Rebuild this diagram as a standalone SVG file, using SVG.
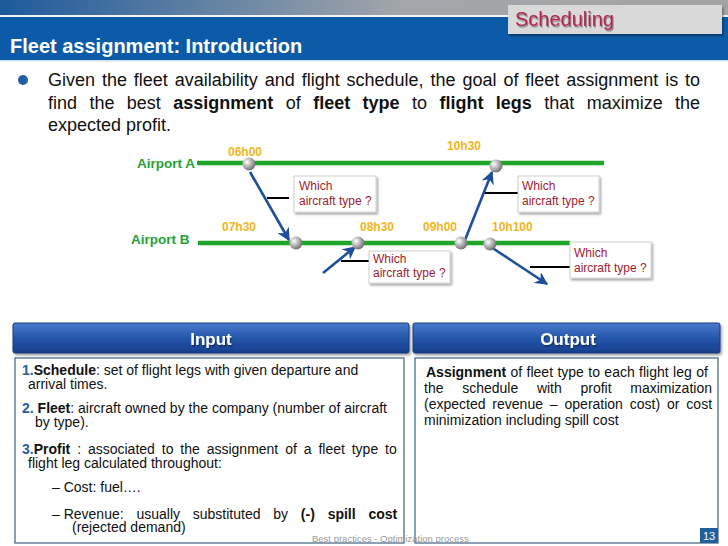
<svg xmlns="http://www.w3.org/2000/svg" width="728" height="546" viewBox="0 0 728 546">
<defs>
<linearGradient id="topg" x1="0" y1="0" x2="1" y2="0">
<stop offset="0" stop-color="#1d5a9c"/>
<stop offset="0.55" stop-color="#a2a6aa"/>
<stop offset="1" stop-color="#a4a4a4"/>
</linearGradient>
<linearGradient id="barg" x1="0" y1="0" x2="0" y2="1">
<stop offset="0" stop-color="#4a7bcc"/>
<stop offset="0.5" stop-color="#2456aa"/>
<stop offset="1" stop-color="#173f8c"/>
</linearGradient>
<radialGradient id="ball" cx="0.35" cy="0.35" r="0.7">
<stop offset="0" stop-color="#ffffff"/>
<stop offset="0.5" stop-color="#b4b4b4"/>
<stop offset="1" stop-color="#6a6a6a"/>
</radialGradient>
<filter id="sh" x="-20%" y="-20%" width="150%" height="160%">
<feDropShadow dx="1.5" dy="2" stdDeviation="1.2" flood-color="#000" flood-opacity="0.35"/>
</filter>
<filter id="tsh" x="-10%" y="-20%" width="130%" height="160%">
<feDropShadow dx="1" dy="1.5" stdDeviation="0.6" flood-color="#000" flood-opacity="0.4"/>
</filter>
<marker id="ah" viewBox="0 0 10 10" refX="9" refY="5" markerWidth="5" markerHeight="5" orient="auto">
<path d="M0,0 L10,5 L0,10 L3,5 z" fill="#1f4e9a"/>
</marker>
<style>
.t{font-family:"Liberation Sans",Arial,sans-serif}
.b{font-weight:bold}
.body{font-family:"Liberation Sans",Arial,sans-serif;font-size:18px;fill:#111}
.p{font-family:"Liberation Sans",Arial,sans-serif;font-size:14px;fill:#111}
.num{fill:#1f5ea8;font-weight:bold}
.time{font-family:"Liberation Sans",Arial,sans-serif;font-size:12px;font-weight:bold;fill:#f2b51c}
.apt{font-family:"Liberation Sans",Arial,sans-serif;font-size:13.5px;font-weight:bold;fill:#23a33a}
.q{font-family:"Liberation Sans",Arial,sans-serif;font-size:12px;fill:#a3202e}
.qbox{fill:#fff;stroke:#d0d0d0;stroke-width:1}
.green{stroke:#1fa52a;stroke-width:4.5}
.arr{stroke:#1f4e9a;stroke-width:2.6;fill:none;marker-end:url(#ah)}
.con{stroke:#000;stroke-width:2}
.bar{fill:url(#barg);stroke:#1a3a7a;stroke-width:1}
.bartxt{font-family:"Liberation Sans",Arial,sans-serif;font-size:17px;font-weight:bold;fill:#fff;text-anchor:middle}
.panel{fill:#fff;stroke:#4f6e8c;stroke-width:1.3}
</style>
</defs>

<g id="header">
<rect x="0" y="0" width="728" height="16" fill="url(#topg)"/>
<rect x="0" y="15" width="728" height="2" fill="#f2f2f2"/>
<rect x="0" y="17" width="728" height="43" fill="#0b5ba8"/>
<rect x="0" y="60" width="728" height="1.5" fill="#cfe2f4"/>
<rect x="508" y="5" width="214" height="29" fill="#d9d9d9" filter="url(#sh)"/>
<text x="515" y="26" class="t" font-size="20" fill="#b0284c" filter="url(#tsh)">Scheduling</text>
<text x="10" y="53" class="t b" font-size="20" fill="#ffffff">Fleet assignment: Introduction</text>
</g>

<g id="intro">
<circle cx="23" cy="80" r="5" fill="#1e5fa8"/>
<text x="48" y="86" class="body" word-spacing="1.9">Given the fleet availability and flight schedule, the goal of fleet assignment is to</text>
<text x="48" y="109" class="body" word-spacing="7.4">find the best <tspan class="b">assignment</tspan> of <tspan class="b">fleet type</tspan> to <tspan class="b">flight legs</tspan> that maximize the</text>
<text x="48" y="131" class="body">expected profit.</text>
</g>

<g id="airport-lines">
<line x1="197" y1="163" x2="604" y2="163" class="green"/>
<line x1="198" y1="243" x2="570" y2="243" class="green"/>
<text x="137" y="168" class="apt">Airport A</text>
<text x="131" y="244" class="apt">Airport B</text>
</g>

<g id="times">
<text x="228" y="156" class="time">06h00</text>
<text x="447" y="150" class="time">10h30</text>
<text x="222" y="231" class="time">07h30</text>
<text x="360" y="231" class="time">08h30</text>
<text x="423" y="231" class="time">09h00</text>
<text x="492" y="231" class="time">10h100</text>
</g>

<g id="connectors">
<line x1="250" y1="172" x2="289" y2="240" class="arr"/>
<line x1="323" y1="273" x2="355" y2="247" class="arr"/>
<line x1="465" y1="240" x2="492" y2="172" class="arr"/>
<line x1="491" y1="247" x2="547" y2="284" class="arr"/>
<line x1="267" y1="198" x2="289" y2="198" class="con"/>
<line x1="341" y1="261" x2="369" y2="261" class="con"/>
<line x1="485" y1="193" x2="518" y2="193" class="con"/>
<line x1="530" y1="267" x2="570" y2="267" class="con"/>
</g>

<g id="balls">
<circle cx="249" cy="164" r="6.5" fill="url(#ball)"/>
<circle cx="296" cy="243" r="6.5" fill="url(#ball)"/>
<circle cx="358" cy="243" r="6.5" fill="url(#ball)"/>
<circle cx="461" cy="243" r="6.5" fill="url(#ball)"/>
<circle cx="490" cy="244" r="6.5" fill="url(#ball)"/>
<circle cx="496" cy="166" r="6.5" fill="url(#ball)"/>
</g>

<g id="q1">
<rect x="294" y="176" width="82" height="36" class="qbox" filter="url(#sh)"/>
<text x="299" y="190" class="q">Which</text>
<text x="299" y="205" class="q">aircraft type ?</text>
</g>
<g id="q2">
<rect x="369" y="251" width="81" height="32" class="qbox" filter="url(#sh)"/>
<text x="373" y="263" class="q">Which</text>
<text x="373" y="277" class="q">aircraft type ?</text>
</g>
<g id="q3">
<rect x="518" y="176" width="81" height="36" class="qbox" filter="url(#sh)"/>
<text x="522" y="190" class="q">Which</text>
<text x="522" y="205" class="q">aircraft type ?</text>
</g>
<g id="q4">
<rect x="570" y="242" width="81" height="36" class="qbox" filter="url(#sh)"/>
<text x="574" y="257" class="q">Which</text>
<text x="574" y="272" class="q">aircraft type ?</text>
</g>

<g id="input">
<rect x="13" y="323" width="396" height="30" rx="2" class="bar" filter="url(#sh)"/>
<text x="211" y="345" class="bartxt" filter="url(#tsh)">Input</text>
<rect x="15" y="358" width="389" height="185" class="panel"/>
<text x="22" y="375" class="p"><tspan class="num">1.</tspan><tspan class="b">Schedule</tspan>: set of flight legs with given departure and</text>
<text x="28" y="389" class="p">arrival times.</text>
<text x="22" y="413" class="p"><tspan class="num">2.</tspan> <tspan class="b">Fleet</tspan>: aircraft owned by the company (number of aircraft</text>
<text x="35" y="427" class="p">by type).</text>
<text x="22" y="454" class="p" word-spacing="3"><tspan class="num">3.</tspan><tspan class="b">Profit</tspan> : associated to the assignment of a fleet type to</text>
<text x="28" y="468" class="p">flight leg calculated throughout:</text>
<text x="52" y="492" class="p">– Cost: fuel….</text>
<text x="52" y="519" class="p"><tspan word-spacing="0">– </tspan><tspan word-spacing="8.9">Revenue: usually substituted by <tspan class="b">(-) spill cost</tspan></tspan></text>
<text x="72" y="532" class="p">(rejected demand)</text>
</g>

<g id="output">
<rect x="413" y="323" width="307" height="30" rx="2" class="bar" filter="url(#sh)"/>
<text x="568" y="345" class="bartxt" filter="url(#tsh)">Output</text>
<rect x="415" y="358" width="303" height="185" class="panel"/>
<text x="426" y="377" class="p" word-spacing="0.5"><tspan class="b">Assignment</tspan> of fleet type to each flight leg of</text>
<text x="424" y="393" class="p" word-spacing="14.8">the schedule with profit maximization</text>
<text x="424" y="409" class="p" word-spacing="3">(expected revenue – operation cost) or cost</text>
<text x="424" y="425" class="p">minimization including spill cost</text>
</g>

<g id="footer">
<text x="312" y="542" class="t" font-size="9.5" fill="#9a9a9a">Best practices - Optimization process</text>
<rect x="700" y="528" width="18" height="15" fill="#1e5fa0"/>
<text x="709" y="540" class="t" font-size="11" fill="#fff" text-anchor="middle">13</text>
</g>
</svg>
